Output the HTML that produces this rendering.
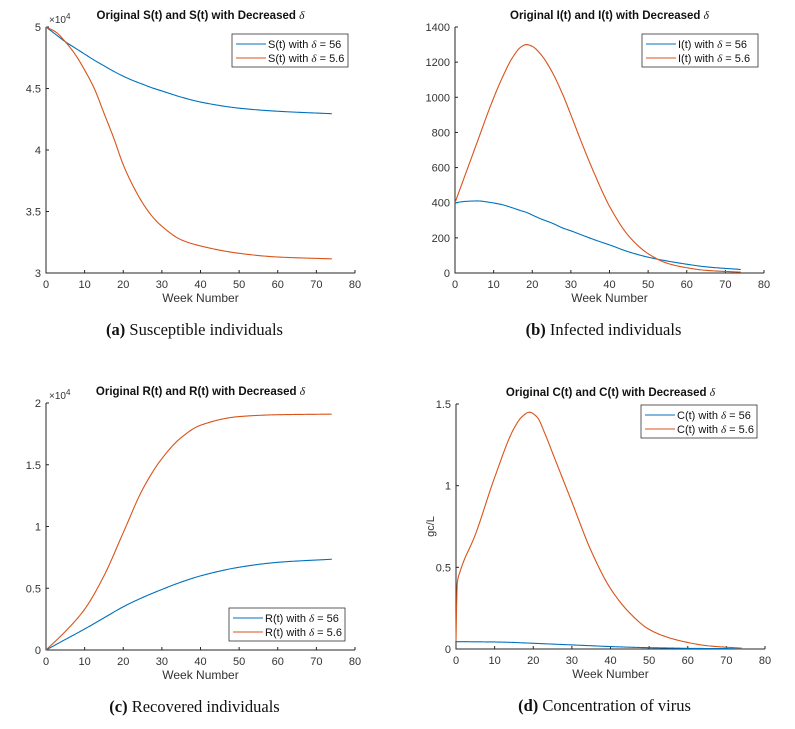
<!DOCTYPE html>
<html><head><meta charset="utf-8"><style>
body{margin:0;background:#fff;}
svg{display:block;font-family:"Liberation Sans",sans-serif;}
.cap{font-family:"Liberation Serif",serif;font-size:16.5px;}
</style></head><body>
<svg id="svg" width="795" height="729"></svg>
<script>
const weeksS=[0,2.5,5,7.5,10,12.5,15,17.5,20,22.5,25,27.5,30,35,40,50,60,74];
const sBlue=[50000,49400,48800,48300,47800,47300,46850,46400,46000,45650,45350,45050,44800,44300,43900,43400,43150,42950];
const sOrange=[50000,49600,48800,47800,46500,45000,43000,41000,38800,37100,35700,34600,33800,32700,32200,31600,31300,31150];
const weeksI=[0,3,6,9,12,15,17,18.5,20,22,25,28,30,33,36,40,45,50,55,60,65,74];
const iBlue=[400,408,410,402,390,370,355,345,330,310,285,255,240,215,190,160,120,90,68,50,35,20];
const iOrange=[400,580,760,940,1100,1230,1285,1300,1290,1250,1150,1010,900,730,570,380,210,110,55,30,15,5];
const weeksR=[0,5,10,15,20,25,30,35,40,50,60,74];
const rBlue=[0,850,1700,2600,3500,4250,4900,5500,6000,6700,7100,7350];
const rOrange=[0,1500,3300,6000,9500,13000,15500,17200,18200,18900,19050,19100];
const weeksC=[0,0.3,1,5,10,15,17,19,21,23,25,30,35,40,45,50,55,60,65,74];
const cBlue=[0.045,0.045,0.045,0.044,0.043,0.04,0.038,0.036,0.034,0.032,0.03,0.025,0.02,0.015,0.011,0.008,0.006,0.004,0.003,0.002];
const cOrange=[0.05,0.4,0.47,0.7,1.05,1.35,1.42,1.45,1.42,1.32,1.2,0.9,0.6,0.37,0.22,0.12,0.07,0.04,0.02,0.005];
const xTicks=[0,10,20,30,40,50,60,70,80];
const BLUE='#0072BD',ORANGE='#D95319';
const NS='http://www.w3.org/2000/svg';
const svg=document.getElementById('svg');
function el(tag,attrs,parent,text){const e=document.createElementNS(NS,tag);for(const k in attrs)e.setAttribute(k,attrs[k]);if(text!==undefined)e.textContent=text;(parent||svg).appendChild(e);return e;}
function monoPath(xsArr,ysArr,xs,ys){
  const n=xsArr.length,d=[],m=new Array(n);
  for(let i=0;i<n-1;i++)d.push((ysArr[i+1]-ysArr[i])/(xsArr[i+1]-xsArr[i]));
  m[0]=d[0];m[n-1]=d[n-2];
  for(let i=1;i<n-1;i++){if(d[i-1]*d[i]<=0)m[i]=0;else{const h0=xsArr[i]-xsArr[i-1],h1=xsArr[i+1]-xsArr[i];const w1=2*h1+h0,w2=h1+2*h0;m[i]=(w1+w2)/(w1/d[i-1]+w2/d[i]);}}
  let p='';
  for(let i=0;i<n-1;i++){const h=xsArr[i+1]-xsArr[i];const steps=Math.max(2,Math.ceil(h*3));
    for(let s=(i===0?0:1);s<=steps;s++){const t=s/steps,t2=t*t,t3=t2*t;
      const v=(2*t3-3*t2+1)*ysArr[i]+(t3-2*t2+t)*h*m[i]+(-2*t3+3*t2)*ysArr[i+1]+(t3-t2)*h*m[i+1];
      const X=xs(xsArr[i]+t*h),Y=ys(v);p+=(p?' L':'M')+X.toFixed(2)+','+Y.toFixed(2);}}
  return p;}
function panel(o){
  const g=el('g',{});
  
  
  const xs=v=>o.x0+(v/80)*(o.x1-o.x0);
  const ys=v=>o.y0-((v-o.ymin)/(o.ymax-o.ymin))*(o.y0-o.y1);
  const ax=el('path',{d:`M${o.x0},${o.y1} V${o.y0} H${o.x1}`,stroke:'#262626',fill:'none','stroke-width':1},g);
  
  xTicks.forEach(t=>{const x=xs(t);el('line',{x1:x,x2:x,y1:o.y0,y2:o.y0-3,stroke:'#262626'},g);
    const tl=el('text',{x:x,y:o.y0+15,'text-anchor':'middle','font-size':11,fill:'#333'},g,t);
    });
  o.yTicks.forEach((t,i)=>{const y=ys(t);el('line',{x1:o.x0,x2:o.x0+3,y1:y,y2:y,stroke:'#262626'},g);
    const tl=el('text',{x:o.x0-5,y:y+4,'text-anchor':'end','font-size':11,fill:'#333'},g,o.yLabels[i]);
    });
  if(o.exp){const e=el('text',{x:o.x0+3,y:o.y1-4,'font-size':10,fill:'#333'},g);e.innerHTML='×10<tspan dy="-4" font-size="8">4</tspan>';}
  if(o.ylab){const t=el('text',{transform:`translate(${o.x0-22},${(o.y0+o.y1)/2}) rotate(-90)`,'text-anchor':'middle','font-size':11,fill:'#333'},g,o.ylab);}
  const ti=el('text',{x:(o.x0+o.x1)/2,y:o.y1-8,'text-anchor':'middle','font-size':11.5,'font-weight':'bold',fill:'#111'},g);
  ti.innerHTML=o.title+' <tspan font-style="italic" font-weight="normal" font-family="Liberation Serif">δ</tspan>';
  
  const xl=el('text',{x:(o.x0+o.x1)/2,y:o.y0+29,'text-anchor':'middle','font-size':12,fill:'#333'},g,'Week Number');
  
  [[o.blue,BLUE,'series-delta-56'],[o.orange,ORANGE,'series-delta-5-6']].forEach(([vals,c,n])=>{
    const p=el('path',{d:monoPath(o.wk,vals,xs,ys),stroke:c,fill:'none','stroke-width':1.1},g);
    });
  const lg=el('g',{},g);
  el('rect',{x:o.lx,y:o.ly,width:116,height:33,fill:'#fff',stroke:'#333','stroke-width':0.8},lg);
  [[BLUE,'56'],[ORANGE,'5.6']].forEach(([c,v],i)=>{const y=o.ly+10+i*14;
    el('line',{x1:o.lx+4,x2:o.lx+34,y1:y,y2:y,stroke:c},lg);
    const t=el('text',{x:o.lx+36,y:y+4,'font-size':11,fill:'#111'},lg);
    t.innerHTML=o.v+'(t) with <tspan font-style="italic" font-family="Liberation Serif">δ</tspan> = '+v;
    });
  const cp=el('text',{x:(o.x0+o.x1)/2-6,y:o.y0+62,'text-anchor':'middle',class:'cap',fill:'#111'},g);
  cp.innerHTML='<tspan font-weight="bold">('+o.cl+')</tspan> '+o.cap;
  
}
panel({name:'panel-susceptible',x0:46,x1:355,y0:273,y1:27,ymin:30000,ymax:50000,yTicks:[30000,35000,40000,45000,50000],yLabels:['3','3.5','4','4.5','5'],exp:true,title:'Original S(t) and S(t) with Decreased',wk:weeksS,blue:sBlue,orange:sOrange,lx:232,ly:34,v:'S',cl:'a',cap:'Susceptible individuals'});
panel({name:'panel-infected',x0:455,x1:764,y0:273,y1:27,ymin:0,ymax:1400,yTicks:[0,200,400,600,800,1000,1200,1400],yLabels:['0','200','400','600','800','1000','1200','1400'],title:'Original I(t) and I(t) with Decreased',wk:weeksI,blue:iBlue,orange:iOrange,lx:642,ly:34,v:'I',cl:'b',cap:'Infected individuals'});
panel({name:'panel-recovered',x0:46,x1:355,y0:650,y1:403,ymin:0,ymax:20000,yTicks:[0,5000,10000,15000,20000],yLabels:['0','0.5','1','1.5','2'],exp:true,title:'Original R(t) and R(t) with Decreased',wk:weeksR,blue:rBlue,orange:rOrange,lx:229,ly:608,v:'R',cl:'c',cap:'Recovered individuals'});
panel({name:'panel-concentration',x0:456,x1:765,y0:649,y1:404,ymin:0,ymax:1.5,yTicks:[0,0.5,1,1.5],yLabels:['0','0.5','1','1.5'],ylab:'gc/L',title:'Original C(t) and C(t) with Decreased',wk:weeksC,blue:cBlue,orange:cOrange,lx:641,ly:405,v:'C',cl:'d',cap:'Concentration of virus'});
</script>
</body></html>
